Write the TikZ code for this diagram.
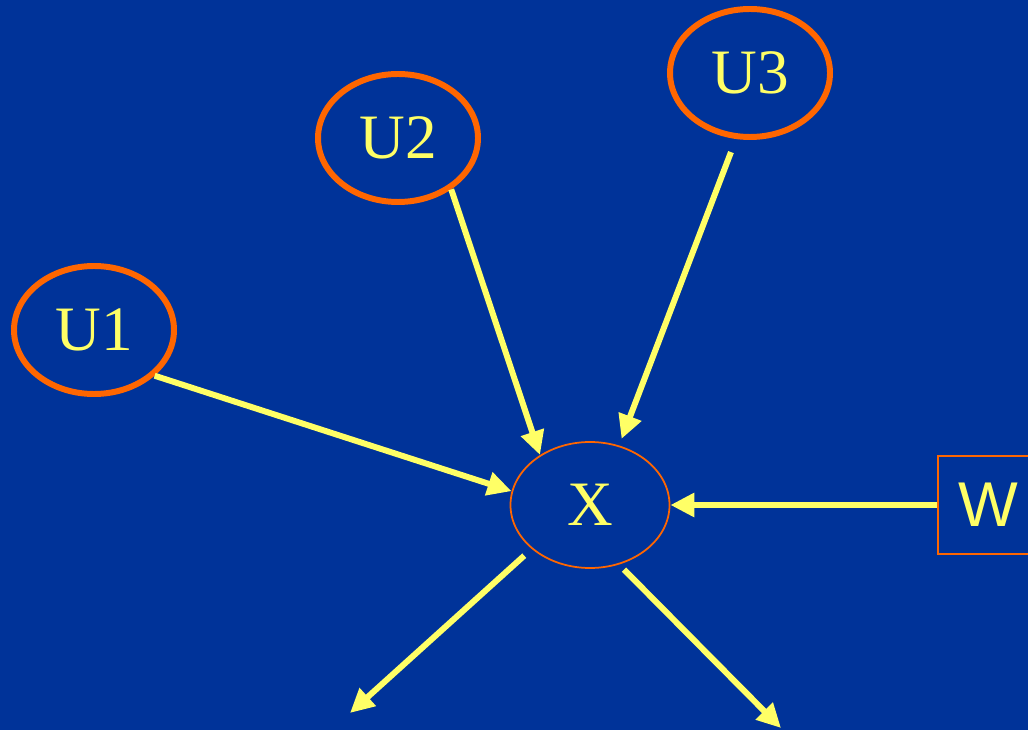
\documentclass[tikz,border=0pt]{standalone}
\usepackage{fontspec}
\setmainfont{Liberation Serif}
\newfontfamily\wfont{Liberation Sans}
\usetikzlibrary{arrows.meta,shapes.geometric}

\definecolor{slideblue}{HTML}{003399}
\definecolor{rimorange}{HTML}{FF6600}
\definecolor{arrowyellow}{HTML}{FFFF66}

\begin{document}
\begin{tikzpicture}[
   cause/.style={ellipse,draw=rimorange,line width=1.7pt,minimum width=1.6cm,minimum height=1.28cm,inner sep=0pt,text=arrowyellow,font=\fontsize{18}{20}\selectfont},
   effect/.style={ellipse,draw=rimorange,line width=0.5pt,minimum width=1.59cm,minimum height=1.26cm,inner sep=0pt,text=arrowyellow,font=\fontsize{18}{20}\selectfont},
   fixed/.style={rectangle,draw=rimorange,line width=0.5pt,minimum width=1.0cm,minimum height=0.98cm,inner sep=0pt,text=arrowyellow,font=\wfont\fontsize{18}{20}\selectfont},
   link/.style={arrowyellow,line width=1.7pt,-{Triangle[length=0.24cm,width=0.23cm]}}
]
\useasboundingbox (0,0) rectangle (10.28,7.30);
\fill [slideblue] (0,0) rectangle (10.28,7.30);

% parents of X
\node [cause] (u1) at (0.94,4.00) {U1};
\node [cause] (u2) at (3.98,5.92) {U2};
\node [cause] (u3) at (7.50,6.57) {U3};

% X and the fixed input
\node [effect] (x) at (5.90,2.25) {X};
\node [fixed] (w) at (9.88,2.25) {W};

% children of X, off the slide
\coordinate (c1) at (3.50,0.17);
\coordinate (c2) at (7.81,0.02);


\draw [link] (u1.-37) -- (x.170);
\draw [link] (u2.-44) -- (x.135);
\draw [link,shorten <=0.14cm,shorten >=0.07cm] (u3.-102) -- (x.64);
\draw [link] (w.west) -- (x.east);

\draw [link,shorten <=0.10cm] (x.217) -- (c1);
\draw [link,shorten <=0.07cm] (x.-64) -- (c2);

\end{tikzpicture}
\end{document}
